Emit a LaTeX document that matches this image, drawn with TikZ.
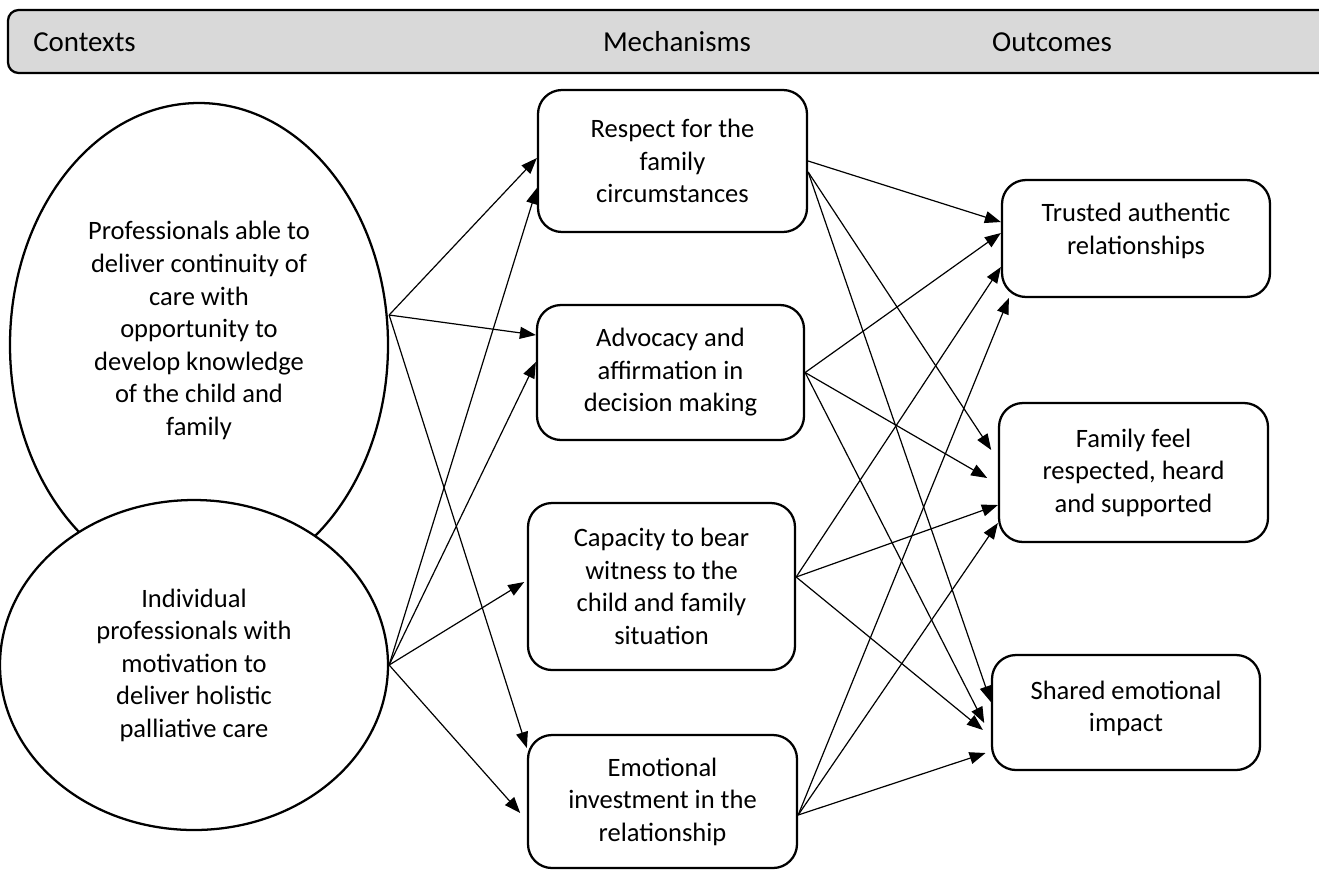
\documentclass[tikz,border=0pt]{standalone}
\usepackage{fontspec}
\setmainfont{Carlito}
\usetikzlibrary{arrows.meta,shapes.geometric}
\definecolor{barfill}{HTML}{D9D9D9}
\tikzset{
  bodyfont/.style={font=\fontsize{19.9pt}{24.4pt}\selectfont},
  mech/.style={draw, line width=1.7pt, rounded corners=18pt, align=center, inner sep=0pt, bodyfont},
  ctx/.style={draw, ellipse, line width=1.7pt, align=center, inner sep=0pt, bodyfont},
  link/.style={line width=0.9pt, -{Triangle[length=12pt,width=9pt]}},
  head/.style={font=\fontsize{21.7pt}{26pt}\selectfont, inner sep=0pt}
}
\begin{document}
\begin{tikzpicture}[x=0.75pt,y=-0.75pt]
\useasboundingbox (0,0) rectangle (1319,869);
% header bar
\draw[fill=barfill, line width=1.7pt, rounded corners=8pt] (1330,10) -- (8,10) -- (8,73) -- (1330,73);
\node[head, anchor=west] (hc) at (33,42) {Contexts};
\node[head] (hm) at (677,42) {Mechanisms};
\node[head] (ho) at (1052,42) {Outcomes};
% contexts
\node[ctx, text depth=25pt, minimum width=378*0.75pt, minimum height=484*0.75pt] (e1) at (199,345) {Professionals able to\\deliver continuity of\\care with\\opportunity to\\develop knowledge\\of the child and\\family};
\node[ctx, fill=white, minimum width=388*0.75pt, minimum height=330*0.75pt] (e2) at (194,665) {Individual\\professionals with\\motivation to\\deliver holistic\\palliative care};
% mechanisms
\node[mech, minimum width=269*0.75pt, minimum height=142*0.75pt] (m1) at (672.5,161) {Respect for the\\family\\circumstances};
\node[mech, minimum width=267*0.75pt, minimum height=135*0.75pt] (m2) at (670.5,372.5) {Advocacy and\\affirmation in\\decision making};
\node[mech, minimum width=267*0.75pt, minimum height=167*0.75pt] (m3) at (661.5,586.5) {Capacity to bear\\witness to the\\child and family\\situation};
\node[mech, minimum width=269*0.75pt, minimum height=133*0.75pt] (m4) at (662.5,801.5) {Emotional\\investment in the\\relationship};
% outcomes
\node[mech, text depth=14.5pt, minimum width=268*0.75pt, minimum height=117*0.75pt] (o1) at (1136,238.5) {Trusted authentic\\relationships};
\node[mech, minimum width=269*0.75pt, minimum height=139*0.75pt] (o2) at (1133.5,472.5) {Family feel\\respected, heard\\and supported};
\node[mech, text depth=9pt, minimum width=268*0.75pt, minimum height=115*0.75pt] (o3) at (1126,712.5) {Shared emotional\\impact};
% contexts -> mechanisms
\draw[link] (e1.east |- 0,315) -- (m1.west |- 0,158);
\draw[link] (e1.east |- 0,315) -- (m2.west |- 0,335);
\draw[link] (e1.east |- 0,315) -- (m4.west |- 0,748);
\draw[link] (e2.east) -- (m1.west |- 0,188);
\draw[link] (e2.east) -- (m2.west |- 0,362);
\draw[link] (e2.east) -- ([xshift=-2pt]m3.west |- 0,582);
\draw[link] (e2.east) -- ([xshift=-5pt]m4.west |- 0,813);
% mechanisms -> outcomes
\draw[link] (m1.east) -- (o1.west |- 0,222);
\draw[link] (m1.east |- 0,172) -- ([xshift=-5pt]o2.west |- 0,450);
\draw[link] (m1.east |- 0,172) -- (o3.west |- 0,702);
\draw[link] (m2.east) -- (o1.west |- 0,233);
\draw[link] (m2.east) -- ([xshift=-8pt]o2.west |- 0,478);
\draw[link] (m2.east) -- ([xshift=-5pt]o3.west |- 0,723);
\draw[link] (m3.east |- 0,577) -- (o1.west |- 0,267);
\draw[link] (m3.east |- 0,577) -- (o2.west |- 0,505);
\draw[link] (m3.east |- 0,577) -- ([xshift=-6pt]o3.west |- 0,730);
\draw[link] (m4.east |- 0,815) -- ([xshift=6pt]o1.west |- 0,298);
\draw[link] (m4.east |- 0,815) -- (o2.west |- 0,523);
\draw[link] (m4.east |- 0,815) -- ([xshift=-4pt]o3.west |- 0,753);
\end{tikzpicture}
\end{document}
